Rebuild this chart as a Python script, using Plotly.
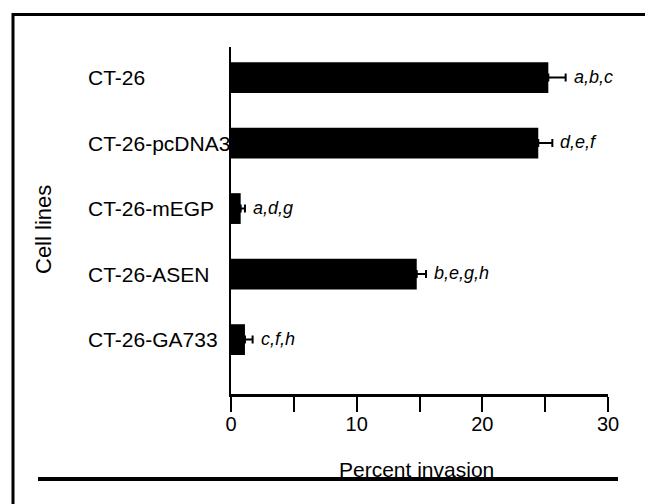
import plotly.graph_objects as go

# ---- data ----
cell_lines = ["CT-26", "CT-26-pcDNA3", "CT-26-mEGP", "CT-26-ASEN", "CT-26-GA733"]
percent_invasion = [25.25, 24.45, 0.77, 14.78, 1.11]
error_plus = [1.38, 1.12, 0.34, 0.74, 0.61]
stat_letters = ["a,b,c", "d,e,f", "a,d,g", "b,e,g,h", "c,f,h"]
x_tick_vals = [0, 5, 10, 15, 20, 25, 30]
x_tick_text = ["0", "", "10", "", "20", "", "30"]

# ---- layout geometry (pixels) ----
OFF = 8  # page body margin
WIDTH, HEIGHT = 653 - OFF, 504 - OFF
L, R, T, B = 231 - OFF, 45, 47 - OFF, 110
PW = WIDTH - L - R
PH = HEIGHT - T - B
FONT = "Liberation Sans, Arial, Helvetica, sans-serif"


def px(xp):
    return (xp - OFF - L) / PW


def py(yp):
    return (HEIGHT - B - (yp - OFF)) / PH


fig = go.Figure()
fig.add_trace(go.Bar(
    x=percent_invasion,
    y=cell_lines,
    orientation="h",
    width=0.47,
    marker=dict(color="black", line=dict(width=0)),
    error_x=dict(type="data", symmetric=False, array=error_plus,
                 arrayminus=[0] * len(error_plus),
                 color="black", thickness=2, width=4),
    showlegend=False,
))

annotations = []
# left-aligned category labels
for name in cell_lines:
    annotations.append(dict(
        x=px(86), xref="paper", y=name, yref="y",
        text=name, showarrow=False, xanchor="left", yanchor="middle",
        font=dict(family=FONT, size=21, color="black"),
    ))
# significance letters
for name, v, e, s in zip(cell_lines, percent_invasion, error_plus, stat_letters):
    annotations.append(dict(
        x=v + e, xref="x", y=name, yref="y",
        text="<i>" + s + "</i>", showarrow=False, xanchor="left", yanchor="middle",
        xshift=6, yshift=1,
        font=dict(family=FONT, size=18, color="black"),
    ))
annotations.append(dict(
    x=px(416), xref="paper", y=py(469), yref="paper",
    text="Percent invasion", showarrow=False, xanchor="center", yanchor="middle",
    font=dict(family=FONT, size=21, color="black"),
))
annotations.append(dict(
    x=px(44), xref="paper", y=py(230), yref="paper",
    text="Cell lines", showarrow=False, textangle=-90,
    xanchor="center", yanchor="middle",
    font=dict(family=FONT, size=22, color="black"),
))

shapes = [
    # outer frame (open at the bottom)
    dict(type="path", xref="paper", yref="paper",
         path=f"M {px(13)},{py(520)} L {px(13)},{py(14.5)} L {px(650)},{py(14.5)} L {px(650)},{py(520)}",
         line=dict(color="black", width=3)),
    # horizontal rule under the axis title
    dict(type="line", xref="paper", yref="paper",
         x0=px(38), x1=px(618), y0=py(479), y1=py(479),
         line=dict(color="black", width=4)),
]

fig.update_layout(
    width=WIDTH, height=HEIGHT,
    margin=dict(l=L, r=R, t=T, b=B, pad=0),
    paper_bgcolor="white", plot_bgcolor="white",
    font=dict(family=FONT, size=20, color="black"),
    annotations=annotations,
    shapes=shapes,
    bargap=0.5,
)
fig.update_xaxes(
    range=[0, 30], tickvals=x_tick_vals, ticktext=x_tick_text,
    ticks="outside", ticklen=15, tickwidth=2, tickcolor="black",
    ticklabelstandoff=-5,
    showline=True, linecolor="black", linewidth=3,
    showgrid=False, zeroline=False,
    tickfont=dict(family=FONT, size=20, color="black"),
)
fig.update_yaxes(
    categoryorder="array", categoryarray=cell_lines,
    range=[4.83, -0.466],
    showticklabels=False, ticks="",
    showline=True, linecolor="black", linewidth=2,
    showgrid=False, zeroline=False,
)

fig.write_html("out.html")
